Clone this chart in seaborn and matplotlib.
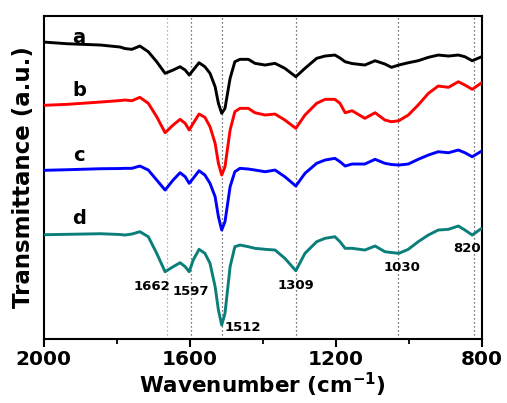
import numpy as np
import pandas as pd
import matplotlib
matplotlib.use("Agg")
import matplotlib.pyplot as plt
import seaborn as sns

# ---------------- data ----------------
wavenumber = [2000, 1935, 1844, 1790, 1777, 1758, 1736, 1713, 1690, 1667, 1645, 1626, 1612,
              1601, 1590, 1574, 1558, 1544, 1530, 1521, 1512, 1503, 1489, 1476, 1462, 1439,
              1421, 1393, 1366, 1339, 1309, 1284, 1252, 1229, 1202, 1188, 1174, 1155, 1120,
              1092, 1065, 1047, 1027, 1001, 974, 946, 919, 891, 864, 846, 826, 800]

t_a = [296.0, 294.3, 293.0, 291.0, 289.5, 288.7, 292.0, 286.3, 276.3, 264.7, 268.0, 271.3,
       268.0, 263.0, 268.0, 275.3, 271.3, 264.7, 251.3, 234.7, 224.7, 229.7, 259.7, 276.3,
       278.7, 278.7, 274.7, 273.0, 274.7, 269.7, 261.3, 269.7, 279.7, 282.0, 283.0, 280.0,
       276.3, 274.5, 273.0, 277.3, 274.0, 270.7, 273.0, 275.3, 277.3, 280.7, 283.0, 282.0,
       283.0, 281.3, 277.3, 281.3]

t_b = [232.7, 233.7, 236.0, 237.5, 238.0, 237.3, 240.7, 234.7, 221.3, 205.3, 213.0, 218.7,
       214.7, 208.0, 214.7, 224.0, 220.7, 211.3, 194.7, 174.7, 163.0, 171.3, 208.0, 226.3,
       229.7, 229.7, 225.3, 223.0, 224.0, 218.0, 209.7, 223.0, 234.7, 238.7, 238.7, 234.7,
       225.3, 227.3, 219.7, 225.3, 218.0, 216.3, 217.3, 223.0, 233.0, 244.7, 252.0, 250.7,
       256.3, 253.0, 248.7, 255.3]

t_c = [167.7, 168.3, 169.3, 169.5, 169.7, 169.7, 172.0, 168.0, 158.0, 148.0, 158.0, 165.3,
       161.3, 154.7, 159.7, 167.3, 163.0, 154.7, 141.3, 121.3, 108.0, 116.3, 151.3, 166.3,
       169.7, 169.0, 168.0, 166.3, 168.0, 161.3, 152.0, 164.7, 174.7, 178.0, 179.7, 176.3,
       172.0, 174.0, 174.0, 178.7, 174.7, 173.5, 173.0, 174.0, 178.7, 183.0, 186.3, 185.3,
       188.0, 185.3, 181.3, 187.0]

t_d = [103.3, 103.7, 104.3, 103.5, 103.0, 104.0, 106.3, 101.3, 84.7, 66.3, 71.3, 75.3,
       71.3, 66.3, 78.0, 88.7, 84.7, 74.7, 51.3, 28.0, 13.0, 24.7, 71.3, 91.3,
       93.0, 91.3, 89.7, 88.7, 88.0, 79.7, 67.3, 84.7, 96.3, 99.7, 101.3, 96.3,
       89.7, 89.7, 88.0, 92.0, 86.3, 85.5, 84.7, 88.7, 96.3, 103.0, 108.0, 108.7,
       112.0, 108.0, 103.0, 109.7]

series_names = ["a", "b", "c", "d"]
series_colors = ["#000000", "#ff0000", "#0000ff", "#0a7f7a"]
name_pos_wn = [1903, 1903, 1903, 1903]
name_pos_t = [300.5, 247.3, 183.0, 119.5]

peak_wn = [1662, 1597, 1512, 1309, 1030, 820]
peak_label_wn = [1703, 1597, 1455, 1309, 1019, 840]
peak_label_t = [51.3, 47.0, 11.0, 53.0, 70.8, 89.2]

major_ticks = [2000, 1600, 1200, 800]
minor_ticks = [1800, 1400, 1000]

# ---------------- build frame ----------------
frames = []
for name, t in zip(series_names, [t_a, t_b, t_c, t_d]):
    frames.append(pd.DataFrame({"wn": wavenumber, "T": t, "sample": name}))
df = pd.concat(frames, ignore_index=True)

# ---------------- style ----------------
sns.set_theme(style="ticks")
plt.rcParams["font.family"] = ["DejaVu Sans"]
plt.rcParams["font.weight"] = "bold"
plt.rcParams["mathtext.fontset"] = "dejavusans"
plt.rcParams["mathtext.default"] = "bf"
plt.rcParams["text.color"] = "black"
plt.rcParams["axes.labelcolor"] = "black"
plt.rcParams["xtick.color"] = "black"
plt.rcParams["ytick.color"] = "black"

fig = plt.figure(figsize=(5.07, 4.03), dpi=100)
ax = fig.add_axes([0.0858, 0.160, 0.8643, 0.8002])

# vertical reference lines
for i, p in enumerate(peak_wn):
    ax.axvline(p, color="#a0a0a0" if i == 0 else "#444444", lw=0.9,
               ls=(0, (1, 2.2)), zorder=1)

sns.lineplot(data=df, x="wn", y="T", hue="sample", palette=series_colors,
             hue_order=series_names, lw=2.1, legend=False, sort=False,
             estimator=None, ax=ax, zorder=3)
for line in ax.get_lines():
    line.set_solid_joinstyle("round")
    line.set_solid_capstyle("round")

for name, x, y in zip(series_names, name_pos_wn, name_pos_t):
    ax.text(x, y, name, fontsize=14, fontweight="bold", ha="center", va="center",
            color="black", zorder=4)

for p, x, y in zip(peak_wn, peak_label_wn, peak_label_t):
    ax.text(x, y, str(p), fontsize=9.5, fontweight="bold", ha="center", va="center",
            color="black", zorder=4)

ax.set_xlim(2000, 800)
ax.set_ylim(-0.5, 322)
ax.set_xticks(major_ticks)
ax.set_xticks(minor_ticks, minor=True)
ax.set_xticklabels([str(t) for t in major_ticks], fontsize=14.5, fontweight="bold")
ax.set_yticks([])
ax.tick_params(axis="x", which="major", direction="out", length=6, width=1.5,
               pad=2.5, colors="black")
ax.tick_params(axis="x", which="minor", direction="out", length=3.5, width=1.3,
               colors="black")
for s in ax.spines.values():
    s.set_linewidth(1.5)
    s.set_color("black")

ax.set_xlabel(r"Wavenumber (cm$^{\mathbf{-1}}$)", fontsize=15.5, fontweight="bold",
              labelpad=1)
ax.set_ylabel("Transmittance (a.u.)", fontsize=16.5, fontweight="bold", labelpad=6)

fig.savefig("out.png", dpi=100, facecolor="white")
